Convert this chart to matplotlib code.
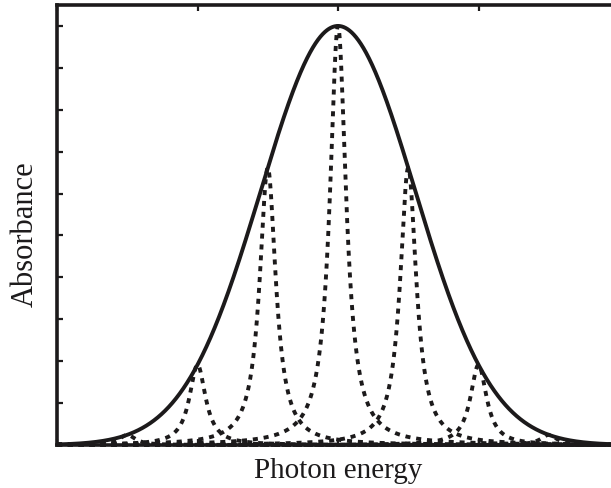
import numpy as np
import matplotlib.pyplot as plt

plt.rcParams['font.family'] = ['Liberation Serif', 'DejaVu Serif']

# inhomogeneous envelope and homogeneous sub-bands
env_center = 0.0
env_sigma = 0.55
line_centers = [-2.0, -1.5, -1.0, -0.5, 0.0, 0.5, 1.0, 1.5, 2.0]
line_hwhm = 0.07

x = np.linspace(-2.0, 2.0, 4001)


def envelope(e):
    return np.exp(-(e - env_center) ** 2 / (2 * env_sigma ** 2))


def lorentz(e, c, h):
    return h / (1 + ((e - c) / line_hwhm) ** 2)


ink = '#1c1a1b'
fig = plt.figure(figsize=(6.11, 4.89), dpi=100)
ax = fig.add_axes([57 / 611, 43 / 489, 562 / 611, 440 / 489])

for c in line_centers:
    ax.plot(x, lorentz(x, c, envelope(c)), color=ink, lw=2.8,
            dashes=(1.3, 1.5), dash_capstyle='butt', clip_on=False)

ax.plot(x, envelope(x), color=ink, lw=2.8, solid_capstyle='butt')

ax.set_xlim(-2, 2)
ax.set_ylim(0, 1.05)
ax.set_xticks([-2, -1, 0, 1, 2])
ax.set_yticks(np.arange(0, 1.01, 0.1))
ax.set_xticklabels([])
ax.set_yticklabels([])
ax.tick_params(direction='in', length=4, width=1.6, color=ink,
               top=True, right=True)
for side in ax.spines.values():
    side.set_linewidth(2.6)
    side.set_color(ink)

ax.set_xlabel('Photon energy', fontsize=21, labelpad=5, color=ink)
ax.set_ylabel('Absorbance', fontsize=22, color=ink)
ax.yaxis.set_label_coords(-0.03, 0.482)

fig.savefig('out.png', dpi=100)
